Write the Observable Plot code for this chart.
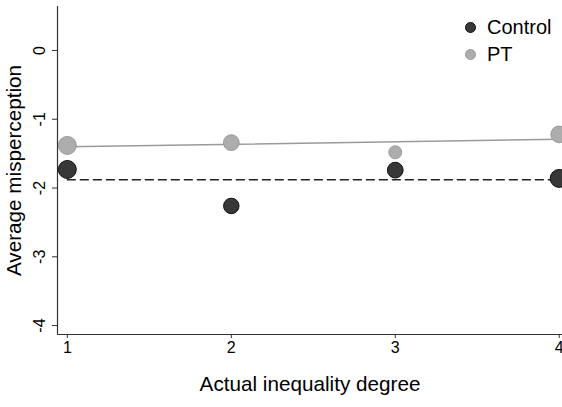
<!DOCTYPE html>
<html><head><meta charset="utf-8">
<script src="https://cdn.jsdelivr.net/npm/d3@7"></script>
<script src="https://cdn.jsdelivr.net/npm/@observablehq/plot@0.6"></script>
<style>
body{margin:0;background:#fff;}
#wrap{position:relative;width:562px;height:407px;font-family:"Liberation Sans",Arial,sans-serif;}
.legend{position:absolute;left:465px;top:14px;font-size:20px;color:#000;line-height:27px;}
.item{display:flex;align-items:center;height:27px;}
.sw{width:11px;height:11px;border-radius:50%;margin-right:11px;box-sizing:border-box;border:1px solid;}
</style></head><body><div id="wrap"></div>
<script>
// data
const degrees = [1, 2, 3, 4];
const controlMean = [-1.73, -2.26, -1.74, -1.86];
const ptMean = [-1.38, -1.34, -1.48, -1.22];
const controlN = [81, 60, 62, 81];
const ptN = [81, 62, 42, 70];
const fitX = [1, 4];
const controlFit = [-1.88, -1.88];
const ptFit = [-1.40, -1.29];
const xTicks = [1, 2, 3, 4];
const yTicks = [0, -1, -2, -3, -4];
const xDomain = [0.94, 4.02];
const yDomain = [-4.13, 0.64];
const groups = ["Control", "PT"];
const fills = ["#383838", "#adadad"];
const strokes = ["#111111", "#9a9a9a"];
const xTitle = "Actual inequality degree";
const yTitle = "Average misperception";

const pts = [];
degrees.forEach((d, i) => {
  pts.push({x: d, y: controlMean[i], n: controlN[i], g: "Control"});
  pts.push({x: d, y: ptMean[i], n: ptN[i], g: "PT"});
});
const ptLine = fitX.map((x, i) => ({x, y: ptFit[i]}));
const ctlLine = fitX.map((x, i) => ({x, y: controlFit[i]}));
const fillOf = g => fills[groups.indexOf(g)];
const strokeOf = g => strokes[groups.indexOf(g)];

const chart = Plot.plot({
  width: 562, height: 407,
  marginLeft: 57, marginRight: 0, marginTop: 6, marginBottom: 73,
  style: {fontFamily: '"Liberation Sans", Arial, sans-serif', fontSize: "16px", color: "#000", background: "#fff"},
  x: {domain: xDomain},
  y: {domain: yDomain},
  r: {type: "sqrt", domain: [0, 100], range: [0, 10]},
  marks: [
    Plot.axisX({ticks: xTicks, tickSize: 4, tickPadding: 3, tickFormat: d => String(d), label: null, fontSize: 16, stroke: "#333"}),
    Plot.axisY({ticks: yTicks, tickSize: 5, tickPadding: 8, tickRotate: -90, tickFormat: d => String(d), label: null, fontSize: 16, stroke: "#333"}),
    Plot.ruleX([xDomain[0]], {stroke: "#333", strokeWidth: 1.2}),
    Plot.ruleY([yDomain[0]], {stroke: "#333", strokeWidth: 1.2}),
    Plot.line(ptLine, {x: "x", y: "y", stroke: "#9a9a9a", strokeWidth: 1.5}),
    Plot.line(ctlLine, {x: "x", y: "y", stroke: "#222", strokeWidth: 1.4, strokeDasharray: "8,5"}),
    Plot.dot(pts, {x: "x", y: "y", r: "n", fill: d => fillOf(d.g), stroke: d => strokeOf(d.g), strokeWidth: 1}),
    Plot.text([xTitle], {text: d => d, frameAnchor: "bottom", textAnchor: "middle", dy: 56, fontSize: 20.7}),
    Plot.text([yTitle], {text: d => d, frameAnchor: "left", textAnchor: "middle", rotate: -90, dx: -43, fontSize: 20.7})
  ]
});
const wrap = document.getElementById("wrap");
wrap.appendChild(chart);
const legend = document.createElement("div");
legend.className = "legend";
groups.forEach((g, i) => {
  const it = document.createElement("div"); it.className = "item";
  const sw = document.createElement("span"); sw.className = "sw";
  sw.style.background = fills[i]; sw.style.borderColor = strokes[i];
  const tx = document.createElement("span"); tx.textContent = g;
  it.appendChild(sw); it.appendChild(tx); legend.appendChild(it);
});
wrap.appendChild(legend);
</script></body></html>
